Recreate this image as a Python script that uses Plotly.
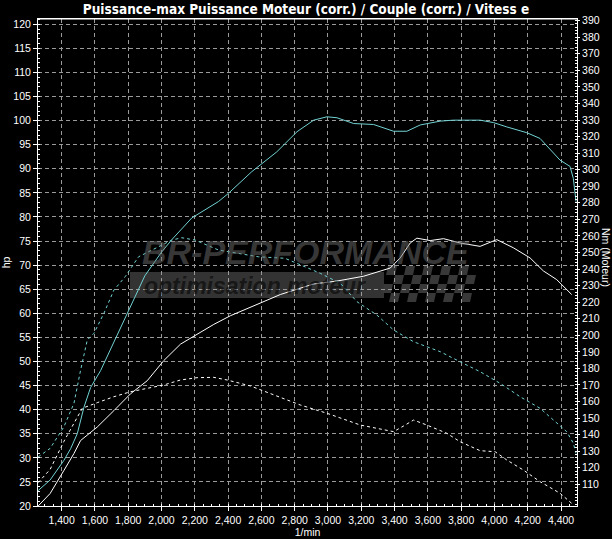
import plotly.graph_objects as go

# ---------------- data ----------------
# tuned power (hp, left axis) - cyan solid
rpm_power_tuned = [1259, 1331, 1414, 1454, 1494, 1534, 1574, 1634, 1700, 1800, 1900, 2000, 2062,
                   2182, 2342, 2402, 2542, 2692, 2814, 2914, 2994, 3054, 3154, 3274, 3394, 3474,
                   3554, 3674, 3754, 3914, 3994, 4074, 4194, 4274, 4394, 4454, 4474, 4490]
hp_tuned = [23.2, 25.4, 29.5, 31.9, 35.0, 40.5, 44.6, 48.1, 53.0, 60.3, 67.8, 72.7, 75.3,
            79.8, 83.2, 84.9, 89.4, 93.5, 97.7, 100.1, 100.8, 100.6, 99.4, 99.2, 97.8, 97.8,
            99.1, 99.9, 100.1, 100.1, 99.6, 98.7, 97.5, 96.3, 91.8, 90.5, 88.0, 83.2]

# stock power (hp, left axis) - white solid
rpm_power_stock = [1259, 1331, 1414, 1474, 1514, 1614, 1714, 1814, 1914, 2014, 2114, 2214, 2314,
                   2414, 2514, 2714, 2914, 3054, 3214, 3374, 3434, 3494, 3534, 3614, 3694, 3794,
                   3914, 4014, 4114, 4214, 4294, 4374, 4464]
hp_stock = [20.0, 22.6, 27.4, 30.9, 33.6, 36.4, 39.8, 43.3, 46.0, 50.2, 53.6, 55.7, 57.7,
            59.5, 61.0, 63.9, 66.1, 66.7, 67.7, 69.4, 71.5, 74.6, 75.6, 75.1, 75.5, 74.6,
            73.9, 75.3, 73.6, 71.5, 68.8, 67.0, 63.9]

# tuned torque (Nm, right axis) - cyan dashed
rpm_torque_tuned = [1259, 1331, 1414, 1474, 1514, 1554, 1594, 1654, 1714, 1782, 1862, 1982, 2062,
                    2122, 2202, 2342, 2462, 2582, 2742, 2954, 3074, 3174, 3294, 3394, 3514, 3674,
                    3794, 3914, 4034, 4154, 4274, 4374, 4434, 4474, 4490]
nm_tuned = [126.5, 131.7, 144.8, 158.9, 179.0, 197.1, 201.2, 213.3, 227.3, 235.4, 247.4, 253.5, 257.5,
            258.9, 257.5, 251.5, 249.5, 247.4, 246.5, 237.4, 231.4, 220.3, 212.2, 203.2, 196.1, 190.1,
            184.0, 178.0, 171.0, 162.9, 155.9, 146.8, 141.8, 134.8, 128.7]

# stock torque (Nm, right axis) - white dashed
rpm_torque_stock = [1259, 1331, 1414, 1474, 1524, 1614, 1714, 1814, 1914, 2014, 2114, 2214, 2314,
                    2394, 2534, 2714, 2834, 2994, 3194, 3294, 3394, 3454, 3514, 3594, 3714, 3794,
                    3914, 4004, 4074, 4174, 4274, 4394, 4464]
nm_stock = [111.0, 119.0, 136.0, 147.0, 155.9, 159.3, 162.9, 165.9, 168.0, 170.0, 173.0, 174.4, 174.6,
            173.0, 169.4, 162.5, 157.9, 152.9, 145.8, 143.8, 141.8, 145.2, 148.8, 145.8, 140.8, 135.7,
            130.3, 129.7, 124.7, 118.6, 111.6, 104.6, 98.5]

x_ticks = list(range(1400, 4401, 200))
hp_ticks = list(range(20, 121, 5))
nm_ticks = list(range(110, 391, 10))

TITLE = "Puissance-max Puissance Moteur (corr.) / Couple (corr.) / Vitess e"

# ---------------- style ----------------
CYAN = "#72d2d2"
GRID = "#9a9a9a"
FONT = "Liberation Sans, Arial, sans-serif"
NARROW = "Liberation Sans Narrow, Arial Narrow, DejaVu Sans Condensed, sans-serif"

W, H = 612, 539
ML, MR, MT, MB = 38, 35, 19, 33
PW, PH = W - ML - MR, H - MT - MB


def px(x):
    return (x - ML) / PW


def py(y):
    return (H - MB - y) / PH


fig = go.Figure()
fig.add_trace(go.Scatter(x=rpm_torque_stock, y=nm_stock, yaxis="y2", mode="lines",
                         line=dict(color="white", width=1, dash="3px,3px"), hoverinfo="skip"))
fig.add_trace(go.Scatter(x=rpm_torque_tuned, y=nm_tuned, yaxis="y2", mode="lines",
                         line=dict(color=CYAN, width=1, dash="3px,3px"), hoverinfo="skip"))
fig.add_trace(go.Scatter(x=rpm_power_stock, y=hp_stock, mode="lines",
                         line=dict(color="white", width=1), hoverinfo="skip"))
fig.add_trace(go.Scatter(x=rpm_power_tuned, y=hp_tuned, mode="lines",
                         line=dict(color=CYAN, width=1), hoverinfo="skip"))

axis_common = dict(
    showline=True, linecolor="white", linewidth=1,
    ticks="outside", tickcolor="white",
    tickfont=dict(family=FONT, size=10.5, color="white"),
    zeroline=False, automargin=False,
)

shapes = []
# watermark bar
shapes.append(dict(type="rect", xref="paper", yref="paper", layer="below",
                   x0=px(130), x1=px(384), y0=py(298), y1=py(272),
                   fillcolor="#333333", line=dict(width=0)))
# checkered flag (decoration)
cell = 9
for r in range(4):
    for c in range(10):
        if (r + c) % 2 == 0:
            x0 = 386 + c * cell - r * 2
            y0 = 266 + r * cell
            path = "M {a},{b} L {c_},{d} L {e},{f} L {g},{h} Z".format(
                a=px(x0 + 2), b=py(y0), c_=px(x0 + cell + 2), d=py(y0),
                e=px(x0 + cell), f=py(y0 + cell), g=px(x0), h=py(y0 + cell))
            shapes.append(dict(type="path", xref="paper", yref="paper", layer="below",
                               path=path, fillcolor="#383838", line=dict(width=0)))

annotations = [
    dict(text="<b><i>BR-PERFORMANCE</i></b>", xref="paper", yref="paper",
         x=px(306), y=py(252), showarrow=False, xanchor="center", yanchor="middle",
         font=dict(family=FONT, size=34, color="rgba(110,110,110,0.5)")),
    dict(text="<b><i>optimisation moteur</i></b>", xref="paper", yref="paper",
         x=px(255), y=py(286), showarrow=False, xanchor="center", yanchor="middle",
         font=dict(family=FONT, size=23, color="rgba(0,0,0,0.55)")),
    dict(text="Nm (Moteur)", xref="paper", yref="paper", x=px(606), y=py(257),
         showarrow=False, textangle=90, xanchor="center", yanchor="middle",
         font=dict(family=FONT, size=10.5, color="white")),
]

fig.update_layout(
    width=W, height=H,
    margin=dict(l=ML, r=MR, t=MT, b=MB, autoexpand=False),
    paper_bgcolor="black", plot_bgcolor="black",
    showlegend=False,
    title=dict(text=TITLE, x=0.5, xanchor="center", y=1 - 9 / H, yanchor="middle",
               font=dict(family=NARROW, size=13.5, color="white", weight="bold")),
    xaxis=dict(range=[1258, 4496], tickvals=x_ticks, tickformat=",d", ticklen=4,
               showgrid=True, gridcolor=GRID, gridwidth=1, griddash="4px,3px",
               mirror=True,
               minor=dict(ticks="inside", ticklen=2, dtick=50, tickcolor="white", showgrid=False),
               title=dict(text="1/min", standoff=2, font=dict(family=FONT, size=10.5, color="white")),
               **axis_common),
    yaxis=dict(range=[20, 121.1], tickvals=hp_ticks, ticklen=4,
               showgrid=True, gridcolor=GRID, gridwidth=1, griddash="4px,3px",
               mirror=False,
               minor=dict(ticks="inside", ticklen=2, dtick=1, tickcolor="white", showgrid=False),
               title=dict(text="hp", standoff=4, font=dict(family=FONT, size=10.5, color="white")),
               **axis_common),
    yaxis2=dict(range=[96.9, 391], tickvals=nm_ticks, overlaying="y", side="right", ticklen=2,
                showgrid=False,
                minor=dict(ticks="inside", ticklen=2, dtick=2, tickcolor="white", showgrid=False),
                **axis_common),
    shapes=shapes,
    annotations=annotations,
)
# top border
fig.add_shape(type="line", xref="paper", yref="paper", x0=0, x1=1, y0=1, y1=1,
              line=dict(color="white", width=1))

fig.write_html(
    "out.html",
    config={"displayModeBar": False, "staticPlot": True},
    post_script="document.body.style.margin='0';document.body.style.background='black';"
                "document.documentElement.style.overflow='hidden';",
)
